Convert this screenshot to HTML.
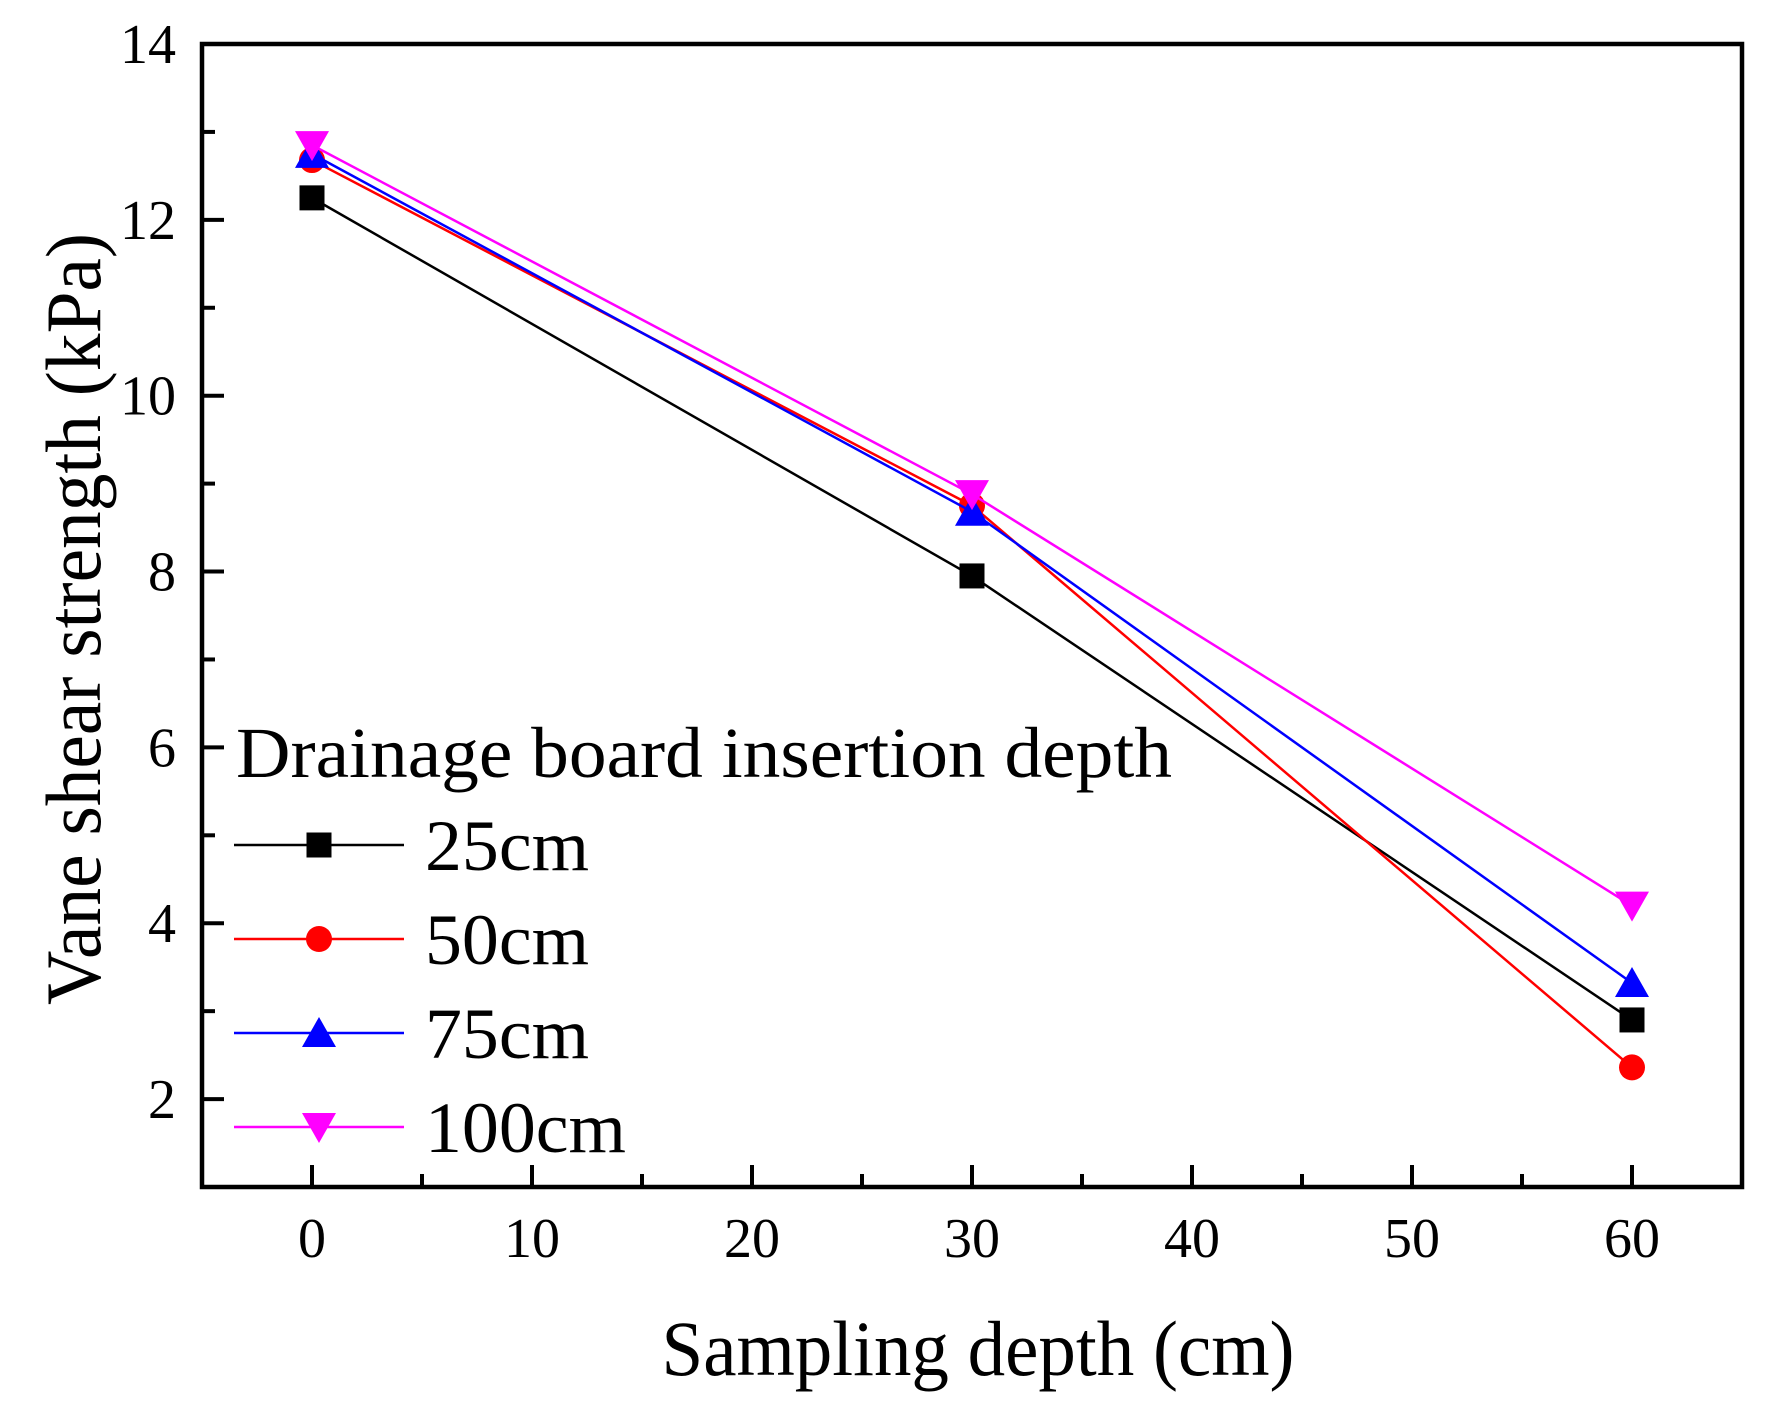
<!DOCTYPE html>
<html><head><meta charset="utf-8"><style>
html,body{margin:0;padding:0;background:#fff;}
svg{display:block;font-family:"Liberation Serif",serif;}
</style></head><body>
<svg id="chart" width="1771" height="1408" viewBox="0 0 1771 1408">
<rect x="0" y="0" width="1771" height="1408" fill="#fff"/>
<g id="axes"></g>
<g id="series"></g>
<g id="legend"></g>
</svg>
<script>
const categories=[0,30,60];
const s25=[12.25,7.95,2.9];
const s50=[12.68,8.75,2.36];
const s75=[12.75,8.68,3.32];
const s100=[12.85,8.88,4.2];
const seriesNames=["25cm","50cm","75cm","100cm"];
const xTicks=[0,10,20,30,40,50,60];
const yTicks=[2,4,6,8,10,12,14];

const NS="http://www.w3.org/2000/svg";
const X0=202,X1=1742,Y0=1187,Y1=44;
const xmin=-5,xmax=65,ymin=1,ymax=14;
function sx(v){return X0+(v-xmin)/(xmax-xmin)*(X1-X0);}
function sy(v){return Y0-(v-ymin)/(ymax-ymin)*(Y0-Y1);}
function mk(tag,attrs,parent){const e=document.createElementNS(NS,tag);for(const k in attrs)e.setAttribute(k,attrs[k]);parent.appendChild(e);return e;}
const axes=document.getElementById('axes'),ser=document.getElementById('series'),leg=document.getElementById('legend');

const frame=mk('rect',{x:X0,y:Y1,width:X1-X0,height:Y0-Y1,fill:'none',stroke:'#000','stroke-width':4.5},axes);



for(let v=-5;v<=65;v+=5){
  const major=v%10===0;
  const t=mk('line',{x1:sx(v),x2:sx(v),y1:Y0,y2:Y0-(major?22:13),stroke:'#000','stroke-width':4},axes);
  
  
}
xTicks.forEach(v=>{
  const t=mk('text',{x:sx(v),y:1257,'text-anchor':'middle','font-size':56},axes);
  t.textContent=v;
  
  
});
for(let v=1;v<=14;v+=1){
  const major=v%2===0;
  const t=mk('line',{x1:X0,x2:X0+(major?22:13),y1:sy(v),y2:sy(v),stroke:'#000','stroke-width':4},axes);
  
  
}
yTicks.forEach(v=>{
  const t=mk('text',{x:176,y:sy(v)+19,'text-anchor':'end','font-size':56},axes);
  t.textContent=v;
  
  
});
const xt=mk('text',{x:978,y:1375,'text-anchor':'middle','font-size':78,textLength:633,lengthAdjust:'spacingAndGlyphs'},axes);
xt.textContent='Sampling depth (cm)';


const yt=mk('text',{x:0,y:0,'text-anchor':'middle','font-size':78,textLength:772,lengthAdjust:'spacingAndGlyphs',transform:'translate(100,619) rotate(-90)'},axes);
yt.textContent='Vane shear strength (kPa)';



function marker(type,cx,cy,color,parent){
  let e;
  if(type==='square')e=mk('rect',{x:cx-12.5,y:cy-12.5,width:25,height:25,fill:color},parent);
  else if(type==='circle')e=mk('circle',{cx:cx,cy:cy,r:13,fill:color},parent);
  else if(type==='up')e=mk('polygon',{points:`${cx-17},${cy+14} ${cx+17},${cy+14} ${cx},${cy-16}`,fill:color},parent);
  else e=mk('polygon',{points:`${cx-17},${cy-14} ${cx+17},${cy-14} ${cx},${cy+16}`,fill:color},parent);
  return e;
}
const allSeries=[s25,s50,s75,s100];
const colors=['#000','#f00','#00f','#f0f'];
const shapes=['square','circle','up','down'];
allSeries.forEach((s,i)=>{
  const g=mk('g',{},ser);
  
  
  const pl=mk('polyline',{points:s.map((v,j)=>sx(categories[j])+','+sy(v)).join(' '),fill:'none',stroke:colors[i],'stroke-width':2.5},g);
  
  
  s.forEach((v,j)=>{
    const m=marker(shapes[i],sx(categories[j]),sy(v),colors[i],g);
    
    
  });
});

const lt=mk('text',{x:236,y:777,'font-size':72,textLength:936,lengthAdjust:'spacingAndGlyphs'},leg);
lt.textContent='Drainage board insertion depth';


const rowY=[845,939,1033,1127];
const labW=[164,164,164,201];
seriesNames.forEach((n,i)=>{
  const g=mk('g',{},leg);
  
  
  mk('line',{x1:234,x2:404,y1:rowY[i],y2:rowY[i],stroke:colors[i],'stroke-width':2.5},g);
  marker(shapes[i],319,rowY[i],colors[i],g);
  const t=mk('text',{x:425,y:rowY[i]+25,'font-size':72,textLength:labW[i],lengthAdjust:'spacingAndGlyphs'},g);
  t.textContent=n;
});
</script>
</body></html>
